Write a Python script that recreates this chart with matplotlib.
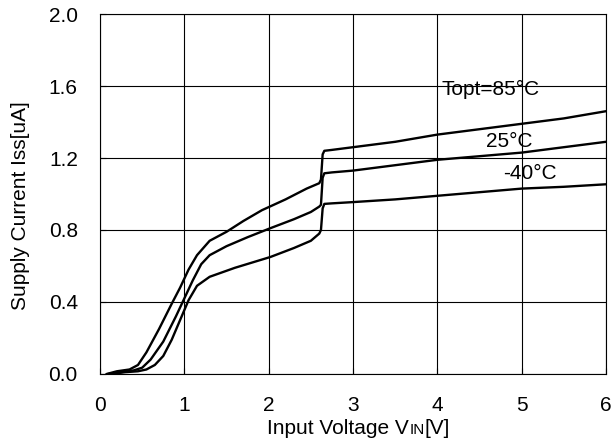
import matplotlib
matplotlib.use("Agg")
import matplotlib.pyplot as plt
from matplotlib.offsetbox import TextArea, HPacker, AnnotationBbox

plt.rcParams["font.family"] = ["Liberation Sans", "DejaVu Sans"]

# 数据
v85 = [0.08, 0.2, 0.35, 0.45, 0.55, 0.7, 0.85, 0.95, 1.05, 1.15, 1.3, 1.5, 1.7, 1.92,
       2.2, 2.45, 2.6, 2.62, 2.64, 2.66, 2.75, 3.0, 3.5, 4.0, 4.5, 5.0, 5.5, 6.0]
i85 = [0.0, 0.015, 0.025, 0.05, 0.12, 0.25, 0.39, 0.48, 0.58, 0.66, 0.74, 0.79, 0.85, 0.91,
       0.97, 1.03, 1.06, 1.08, 1.22, 1.24, 1.245, 1.26, 1.29, 1.33, 1.36, 1.39, 1.42, 1.46]

v25 = [0.1, 0.25, 0.4, 0.5, 0.6, 0.75, 0.9, 1.0, 1.1, 1.2, 1.3, 1.5, 1.75, 2.02,
       2.3, 2.5, 2.6, 2.62, 2.64, 2.66, 2.75, 3.0, 3.5, 4.0, 4.5, 5.0, 5.5, 6.0]
i25 = [0.0, 0.01, 0.02, 0.035, 0.08, 0.18, 0.32, 0.42, 0.52, 0.61, 0.66, 0.71, 0.76, 0.81,
       0.86, 0.90, 0.93, 0.94, 1.09, 1.115, 1.12, 1.13, 1.16, 1.19, 1.21, 1.23, 1.26, 1.29]

v40 = [0.12, 0.3, 0.45, 0.55, 0.65, 0.75, 0.85, 0.95, 1.05, 1.15, 1.3, 1.6, 2.02,
       2.3, 2.5, 2.6, 2.62, 2.64, 2.66, 2.75, 3.0, 3.5, 4.0, 4.5, 5.0, 5.5, 6.0]
i40 = [0.0, 0.01, 0.015, 0.025, 0.05, 0.1, 0.19, 0.3, 0.41, 0.49, 0.54, 0.59, 0.65,
       0.70, 0.74, 0.78, 0.80, 0.92, 0.945, 0.948, 0.955, 0.97, 0.99, 1.01, 1.03, 1.04, 1.054]

labels = ["Topt=85°C", "25°C", "-40°C"]
label_pos = [(4.05, 1.58), (4.58, 1.29), (4.78, 1.115)]

xticks = [0, 1, 2, 3, 4, 5, 6]
yticks = [0.0, 0.4, 0.8, 1.2, 1.6, 2.0]

fs = 15

fig = plt.figure(figsize=(6.11, 4.45), dpi=100)
ax = fig.add_axes([0.1637, 0.1596, 0.8281, 0.8089])

for v, i in [(v85, i85), (v25, i25), (v40, i40)]:
    ax.plot(v, i, color="black", lw=1.7, solid_joinstyle="round")

for txt, (x, y) in zip(labels, label_pos):
    ax.text(x, y, txt, fontsize=fs, ha="left", va="center")

ax.set_xlim(0, 6)
ax.set_ylim(0, 2.0)
ax.set_xticks(xticks)
ax.set_yticks(yticks)
ax.set_xticklabels([str(t) for t in xticks])
ax.set_yticklabels([f"{t:.1f}" for t in yticks])
ax.grid(True, color="black", lw=0.8)
ax.set_axisbelow(True)
ax.tick_params(direction="in", length=4, width=0.8, pad=16, labelsize=fs)
for s in ax.spines.values():
    s.set_linewidth(0.8)

ax.set_ylabel("Supply Current Iss[uA]", fontsize=fs)
ax.yaxis.set_label_coords(-0.138, 0.469)

# x 轴标签: "IN" 用小号字
parts = HPacker(children=[TextArea("Input Voltage V", textprops=dict(fontsize=fs)),
                          TextArea("IN", textprops=dict(fontsize=11)),
                          TextArea("[V]", textprops=dict(fontsize=fs))],
                align="baseline", pad=0, sep=0)
ab = AnnotationBbox(parts, (0.511, -0.152), xycoords="axes fraction",
                    frameon=False, box_alignment=(0.5, 0.5), annotation_clip=False)
ax.add_artist(ab)

fig.savefig("out.png", dpi=100)
